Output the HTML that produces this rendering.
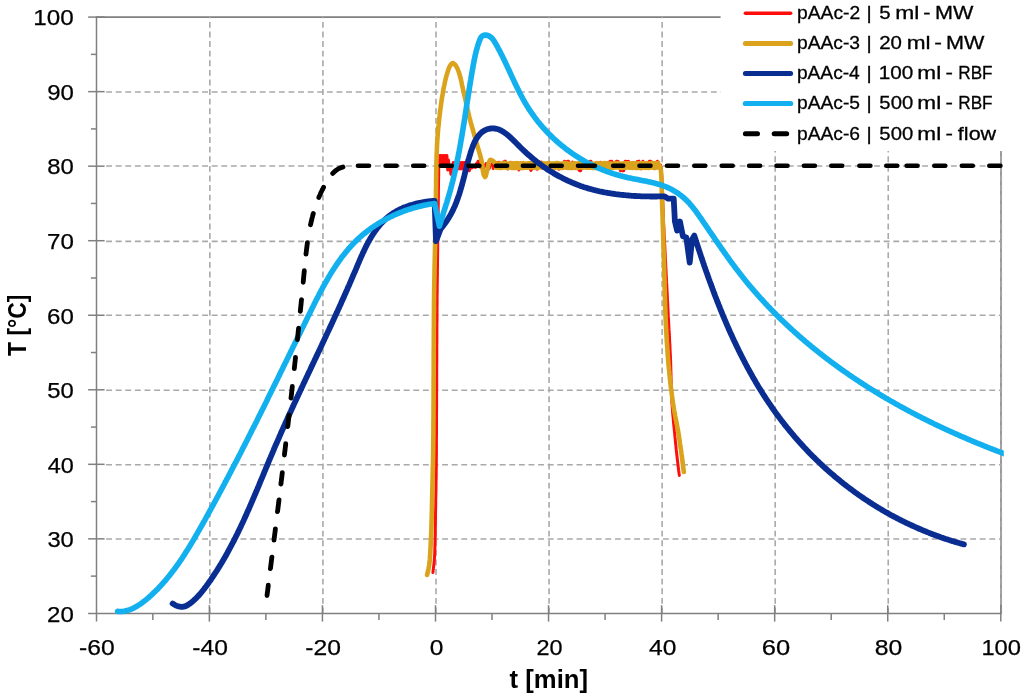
<!DOCTYPE html>
<html lang="en"><head><meta charset="utf-8"><title>T vs t</title>
<style>html,body{margin:0;padding:0;background:#fff;overflow:hidden}svg{display:block}</style>
</head><body>
<svg width="1024" height="700" viewBox="0 0 1024 700">
<rect x="0" y="0" width="1024" height="700" fill="#fff"/>
<g fill="none" stroke="#808080" stroke-width="1.6">
<path d="M96.5 17.1 H1001.0 V613.4"/>
</g>
<g fill="none" stroke="#a9a9a9" stroke-width="1.6" stroke-dasharray="5.9 3.7">
<path d="M209.86 613.4 V17.1"/>
<path d="M322.93 613.4 V17.1"/>
<path d="M435.99 613.4 V17.1"/>
<path d="M549.05 613.4 V17.1"/>
<path d="M662.11 613.4 V17.1"/>
<path d="M775.17 613.4 V17.1"/>
<path d="M888.24 613.4 V17.1"/>
<path d="M1001.30 613.4 V17.1"/>
<path d="M106.1 538.96 H1001.0"/>
<path d="M106.1 464.82 H1001.0"/>
<path d="M106.1 390.29 H1001.0"/>
<path d="M106.1 315.30 H1001.0"/>
<path d="M106.1 241.41 H1001.0"/>
<path d="M106.1 165.98 H1001.0"/>
<path d="M106.1 91.99 H1001.0"/>
</g>
<g fill="none" stroke="#808080" stroke-width="1.5">
<path d="M96.5 16.3 V621.6"/>
<path d="M88.1 613.4 H1001.8"/>
<path d="M152.83 613.4 v6.6"/>
<path d="M209.36 605.2 v16.4"/>
<path d="M265.89 613.4 v6.6"/>
<path d="M322.43 605.2 v16.4"/>
<path d="M378.96 613.4 v6.6"/>
<path d="M435.49 605.2 v16.4"/>
<path d="M492.02 613.4 v6.6"/>
<path d="M548.55 605.2 v16.4"/>
<path d="M605.08 613.4 v6.6"/>
<path d="M661.61 605.2 v16.4"/>
<path d="M718.14 613.4 v6.6"/>
<path d="M774.67 605.2 v16.4"/>
<path d="M831.21 613.4 v6.6"/>
<path d="M887.74 605.2 v16.4"/>
<path d="M944.27 613.4 v6.6"/>
<path d="M1000.80 605.2 v16.4"/>
<path d="M96.5 576.13 h-5.6"/>
<path d="M104.6 538.86 h-16.5"/>
<path d="M96.5 501.59 h-5.6"/>
<path d="M104.6 464.32 h-16.5"/>
<path d="M96.5 427.06 h-5.6"/>
<path d="M104.6 389.79 h-16.5"/>
<path d="M96.5 352.52 h-5.6"/>
<path d="M104.6 315.25 h-16.5"/>
<path d="M96.5 277.98 h-5.6"/>
<path d="M104.6 240.71 h-16.5"/>
<path d="M96.5 203.44 h-5.6"/>
<path d="M104.6 166.18 h-16.5"/>
<path d="M96.5 128.91 h-5.6"/>
<path d="M104.6 91.64 h-16.5"/>
<path d="M96.5 54.37 h-5.6"/>
<path d="M104.6 17.10 h-16.5"/>
</g>
<g fill="none" stroke-linecap="round" stroke-linejoin="round">
<path stroke="#ff0d0d" stroke-width="3" d="M432.9 572.6 L433.4 568.4 L433.9 564.2 L434.3 560.1 L434.6 555.9 L434.8 551.7 L434.9 547.5 L435.0 543.3 L435.1 539.1 L435.2 534.9 L435.3 530.7 L435.3 526.5 L435.4 522.3 L435.5 518.1 L435.5 513.9 L435.6 509.7 L435.7 505.5 L435.7 501.3 L435.8 497.1 L435.9 492.9 L436.0 488.7 L436.0 484.5 L436.1 480.3 L436.2 476.1 L436.2 471.9 L436.3 467.7 L436.3 463.5 L436.3 459.3 L436.4 455.1 L436.4 450.9 L436.4 446.7 L436.4 442.5 L436.4 438.3 L436.5 434.1 L436.5 429.9 L436.5 425.7 L436.5 421.5 L436.5 417.3 L436.5 413.1 L436.6 408.9 L436.6 404.7 L436.6 400.5 L436.6 396.3 L436.6 392.1 L436.7 387.9 L436.7 383.7 L436.7 379.5 L436.7 375.3 L436.7 371.1 L436.7 366.9 L436.8 362.7 L436.8 358.5 L436.8 354.3 L436.8 350.1 L436.8 345.9 L436.9 341.8 L436.9 337.6 L436.9 333.4 L436.9 329.2 L436.9 325.0 L437.0 320.8 L437.0 316.6 L437.0 312.4 L437.0 308.2 L437.1 304.0 L437.1 299.8 L437.1 295.6 L437.2 291.4 L437.2 287.2 L437.3 283.0 L437.3 278.8 L437.4 274.6 L437.4 270.4 L437.5 266.2 L437.5 262.0 L437.6 257.8 L437.6 253.6 L437.7 249.4 L437.7 245.2 L437.8 241.0 L437.8 236.8 L437.9 232.6 L437.9 228.4 L438.0 224.2 L438.0 220.0 L438.1 215.8 L438.2 211.6 L438.2 207.4 L438.3 203.2 L438.3 199.0 L438.4 194.8 L438.4 190.6 L438.5 186.4 L438.5 182.2 L438.6 178.0 L438.7 173.8 L438.7 169.6 L438.8 165.4 L438.8 161.2 L438.9 157.0 L438.9 155.6 L439.7 164.0 L440.5 155.6 L441.3 164.0 L442.1 155.6 L442.9 164.0 L443.7 155.6 L444.5 164.0 L445.3 155.6 L446.1 164.0 L446.9 155.6 L447.7 170.0 L448.5 160.0 L449.3 170.0 L450.1 166.0 L450.9 174.3 L451.7 166.0 L452.5 168.8 L453.3 162.6 L454.1 168.8 L454.9 162.6 L455.7 168.8 L456.5 162.6 L457.3 168.8 L458.1 162.6 L458.9 168.8 L459.7 162.6 L460.5 168.8 L461.3 162.6 L462.1 168.8 L462.9 162.6 L463.7 168.8 L464.5 162.6 L465.3 168.8 L466.1 170.8 L466.9 167.8 L467.7 167.2 L468.5 166.3 L469.3 170.8 L470.1 167.8 L470.9 166.4 L471.7 168.0 L472.5 167.0 L473.3 167.1 L474.1 165.8 L474.9 167.2 L475.7 167.4 L476.5 163.5 L477.3 163.3 L478.1 161.2 L478.9 163.1 L479.7 164.3 L480.5 167.5 L481.3 165.5 L482.1 165.4 L482.9 165.4 L483.7 168.1 L484.5 165.9 L485.3 165.4 L486.1 163.6 L486.9 166.6 L487.7 166.0 L488.5 169.0 L489.3 168.5 L490.1 164.7 L490.9 161.2 L491.7 161.2 L492.5 164.0 L493.3 168.5 L494.1 167.6 L494.9 166.8 L495.7 166.7 L496.5 164.8 L497.3 162.5 L498.1 164.2 L498.9 162.2 L499.7 167.0 L500.5 165.0 L501.3 168.6 L502.1 164.5 L502.9 164.7 L503.7 161.9 L504.5 162.5 L505.3 161.2 L506.1 164.0 L506.9 166.9 L507.7 169.0 L508.5 166.8 L509.3 165.9 L510.1 162.5 L510.9 162.7 L511.7 164.1 L512.5 165.6 L513.3 167.0 L514.1 164.9 L514.9 164.4 L515.7 163.6 L516.5 164.3 L517.3 166.4 L518.1 166.6 L518.9 170.0 L519.7 168.6 L520.5 167.9 L521.3 163.0 L522.1 163.4 L522.9 165.0 L523.7 165.5 L524.5 165.4 L525.3 165.5 L526.1 166.6 L526.9 165.7 L527.7 166.2 L528.5 166.6 L529.3 168.2 L530.1 168.5 L530.9 170.4 L531.7 169.1 L532.5 166.1 L533.3 164.6 L534.1 164.9 L534.9 162.5 L535.7 164.3 L536.5 164.5 L537.3 169.2 L538.1 164.9 L538.9 167.1 L539.7 164.8 L540.5 166.6 L541.3 161.9 L542.1 162.6 L542.9 162.4 L543.7 164.6 L544.5 165.6 L545.3 166.2 L546.1 168.2 L546.9 166.6 L547.7 164.7 L548.5 163.0 L549.3 164.9 L550.1 168.9 L550.9 170.4 L551.7 166.1 L552.5 164.6 L553.3 165.7 L554.1 169.0 L554.9 167.4 L555.7 165.3 L556.5 164.3 L557.3 166.4 L558.1 165.8 L558.9 169.2 L559.7 168.9 L560.5 167.7 L561.3 166.3 L562.1 167.0 L562.9 167.3 L563.7 165.5 L564.5 161.2 L565.3 162.4 L566.1 162.1 L566.9 162.4 L567.7 161.2 L568.5 161.2 L569.3 163.4 L570.1 166.4 L570.9 167.6 L571.7 164.3 L572.5 162.1 L573.3 162.8 L574.1 165.7 L574.9 168.0 L575.7 168.7 L576.5 166.1 L577.3 165.4 L578.1 165.0 L578.9 169.9 L579.7 170.7 L580.5 170.8 L581.3 167.5 L582.1 168.1 L582.9 164.8 L583.7 163.1 L584.5 162.9 L585.3 164.9 L586.1 167.4 L586.9 166.9 L587.7 167.7 L588.5 165.7 L589.3 163.2 L590.1 161.2 L590.9 161.2 L591.7 164.7 L592.5 166.4 L593.3 167.0 L594.1 163.5 L594.9 168.0 L595.7 168.5 L596.5 168.2 L597.3 163.7 L598.1 165.9 L598.9 167.7 L599.7 165.5 L600.5 162.3 L601.3 163.0 L602.1 164.5 L602.9 163.7 L603.7 164.7 L604.5 166.1 L605.3 168.6 L606.1 166.1 L606.9 165.1 L607.7 164.3 L608.5 162.4 L609.3 162.6 L610.1 161.2 L610.9 164.3 L611.7 161.2 L612.5 163.6 L613.3 162.6 L614.1 168.3 L614.9 166.6 L615.7 164.4 L616.5 161.2 L617.3 161.2 L618.1 161.4 L618.9 163.3 L619.7 166.7 L620.5 170.7 L621.3 168.6 L622.1 170.8 L622.9 170.8 L623.7 170.8 L624.5 164.7 L625.3 161.2 L626.1 161.5 L626.9 161.5 L627.7 161.8 L628.5 161.3 L629.3 164.0 L630.1 165.0 L630.9 167.1 L631.7 167.6 L632.5 166.9 L633.3 164.0 L634.1 163.5 L634.9 163.2 L635.7 165.3 L636.5 165.7 L637.3 161.6 L638.1 161.7 L638.9 161.2 L639.7 164.0 L640.5 166.1 L641.3 168.9 L642.1 166.6 L642.9 161.2 L643.7 163.0 L644.5 165.1 L645.3 168.6 L646.1 168.2 L646.9 168.1 L647.7 166.6 L648.5 163.3 L649.3 161.2 L650.1 161.2 L650.9 161.2 L651.7 162.5 L652.5 165.9 L653.3 165.8 L654.1 166.4 L654.9 167.1 L655.7 165.7 L656.5 164.9 L657.3 161.2 L658.1 164.0 L658.9 164.5 L659.7 168.3 L660.5 165.0 L660.9 167.6 L661.3 170.2 L661.5 172.8 L661.7 175.4 L661.9 178.0 L662.0 180.6 L662.2 183.2 L662.3 185.8 L662.4 188.4 L662.5 191.0 L662.6 193.6 L662.7 196.2 L662.8 198.9 L662.8 201.5 L662.9 204.1 L663.0 206.7 L663.1 209.3 L663.2 211.9 L663.3 214.6 L663.4 217.2 L663.5 219.8 L663.6 222.4 L663.7 225.0 L663.9 227.6 L664.0 230.2 L664.1 232.8 L664.2 235.5 L664.4 238.1 L664.5 240.7 L664.6 243.3 L664.8 245.9 L664.9 248.5 L665.0 251.1 L665.2 253.7 L665.3 256.3 L665.4 259.0 L665.6 261.6 L665.7 264.2 L665.8 266.8 L666.0 269.4 L666.1 272.0 L666.2 274.6 L666.4 277.2 L666.5 279.8 L666.6 282.4 L666.8 285.1 L666.9 287.7 L667.0 290.3 L667.2 292.9 L667.3 295.5 L667.4 298.1 L667.5 300.7 L667.7 303.3 L667.8 305.9 L667.9 308.6 L668.1 311.2 L668.2 313.8 L668.3 316.4 L668.5 319.0 L668.6 321.6 L668.7 324.2 L668.9 326.8 L669.0 329.4 L669.2 332.1 L669.3 334.7 L669.5 337.3 L669.6 339.9 L669.7 342.5 L669.9 345.1 L670.0 347.7 L670.1 350.3 L670.2 352.9 L670.4 355.6 L670.5 358.2 L670.6 360.8 L670.7 363.4 L670.8 366.0 L670.8 368.6 L670.9 371.2 L671.0 373.8 L671.0 376.5 L671.1 379.1 L671.2 381.7 L671.2 384.3 L671.3 386.9 L671.4 389.5 L671.5 392.1 L671.6 394.7 L671.7 397.4 L671.8 400.0 L671.9 402.6 L672.1 405.2 L672.3 407.8 L672.5 410.4 L672.7 413.0 L672.9 415.6 L673.2 418.2 L673.4 420.8 L673.6 423.4 L673.9 426.0 L674.2 428.6 L674.4 431.2 L674.7 433.8 L674.9 436.4 L675.2 439.0 L675.4 441.6 L675.7 444.2 L676.0 446.8 L676.2 449.4 L676.5 452.0 L676.8 454.6 L677.1 457.2 L677.4 459.8 L677.7 462.4 L678.0 465.0 L678.3 467.6 L678.6 470.2 L679.0 472.8 L679.3 475.4"/>
<path stroke="#dba31c" stroke-width="4.6" d="M427.1 574.9 L427.6 572.7 L428.1 570.6 L428.6 568.4 L429.0 566.2 L429.3 564.1 L429.6 561.9 L429.8 559.7 L429.9 557.5 L430.1 555.3 L430.3 553.1 L430.4 550.9 L430.5 548.7 L430.6 546.5 L430.7 544.2 L430.8 542.0 L430.9 539.8 L431.0 537.6 L431.1 535.4 L431.2 533.2 L431.3 531.0 L431.4 528.8 L431.4 526.6 L431.5 524.4 L431.6 522.2 L431.6 520.0 L431.7 517.7 L431.8 515.5 L431.8 513.3 L431.9 511.1 L431.9 508.9 L432.0 506.7 L432.0 504.5 L432.1 502.3 L432.1 500.1 L432.2 497.9 L432.2 495.7 L432.3 493.4 L432.3 491.2 L432.4 489.0 L432.4 486.8 L432.5 484.6 L432.5 482.4 L432.6 480.2 L432.6 478.0 L432.7 475.8 L432.7 473.6 L432.8 471.4 L432.8 469.1 L432.9 466.9 L432.9 464.7 L433.0 462.5 L433.0 460.3 L433.1 458.1 L433.1 455.9 L433.1 453.7 L433.2 451.5 L433.2 449.3 L433.2 447.1 L433.2 444.8 L433.3 442.6 L433.3 440.4 L433.3 438.2 L433.3 436.0 L433.4 433.8 L433.4 431.6 L433.4 429.4 L433.4 427.2 L433.4 425.0 L433.4 422.7 L433.4 420.5 L433.5 418.3 L433.5 416.1 L433.5 413.9 L433.5 411.7 L433.5 409.5 L433.5 407.3 L433.5 405.1 L433.5 402.9 L433.6 400.7 L433.6 398.4 L433.6 396.2 L433.6 394.0 L433.6 391.8 L433.6 389.6 L433.6 387.4 L433.6 385.2 L433.6 383.0 L433.6 380.8 L433.6 378.6 L433.7 376.3 L433.7 374.1 L433.7 371.9 L433.7 369.7 L433.7 367.5 L433.7 365.3 L433.7 363.1 L433.7 360.9 L433.7 358.7 L433.7 356.5 L433.7 354.2 L433.7 352.0 L433.7 349.8 L433.8 347.6 L433.8 345.4 L433.8 343.2 L433.8 341.0 L433.8 338.8 L433.8 336.6 L433.8 334.4 L433.8 332.2 L433.8 329.9 L433.9 327.7 L433.9 325.5 L433.9 323.3 L433.9 321.1 L433.9 318.9 L433.9 316.7 L433.9 314.5 L434.0 312.3 L434.0 310.1 L434.0 307.8 L434.0 305.6 L434.0 303.4 L434.0 301.2 L434.1 299.0 L434.1 296.8 L434.1 294.6 L434.1 292.4 L434.2 290.2 L434.2 288.0 L434.2 285.8 L434.3 283.5 L434.3 281.3 L434.4 279.1 L434.4 276.9 L434.5 274.7 L434.5 272.5 L434.5 270.3 L434.6 268.1 L434.6 265.9 L434.7 263.7 L434.7 261.5 L434.8 259.2 L434.8 257.0 L434.9 254.8 L434.9 252.6 L435.0 250.4 L435.0 248.2 L435.1 246.0 L435.1 243.8 L435.2 241.6 L435.2 239.4 L435.3 237.2 L435.3 234.9 L435.3 232.7 L435.4 230.5 L435.4 228.3 L435.5 226.1 L435.5 223.9 L435.5 221.7 L435.6 219.5 L435.6 217.3 L435.7 215.1 L435.7 212.9 L435.7 210.6 L435.8 208.4 L435.8 206.2 L435.8 204.0 L435.9 201.8 L435.9 199.6 L435.9 197.4 L436.0 195.2 L436.0 193.0 L436.0 190.8 L436.0 188.6 L436.1 186.3 L436.1 184.1 L436.1 181.9 L436.1 179.7 L436.2 177.5 L436.2 175.3 L436.2 173.1 L436.3 170.9 L436.3 168.7 L436.3 166.5 L436.4 164.2 L436.4 162.0 L436.5 159.8 L436.6 157.6 L436.6 155.4 L436.7 153.2 L436.8 151.0 L436.9 148.8 L437.0 146.6 L437.1 144.4 L437.2 142.2 L437.3 140.0 L437.5 137.8 L437.7 135.6 L437.8 133.4 L438.0 131.1 L438.2 128.9 L438.4 126.7 L438.7 124.5 L438.9 122.3 L439.1 120.2 L439.3 118.0 L439.6 115.8 L439.8 113.6 L440.1 111.4 L440.4 109.2 L440.7 107.0 L441.0 104.8 L441.3 102.6 L441.6 100.4 L441.9 98.2 L442.3 96.1 L442.7 93.9 L443.0 91.7 L443.4 89.5 L443.8 87.3 L444.3 85.2 L444.7 83.0 L445.2 80.8 L445.7 78.7 L446.3 76.5 L446.9 74.4 L447.5 72.3 L448.2 70.2 L448.9 68.0 L449.9 66.0 L451.1 64.2 L452.8 63.0 L454.7 64.3 L456.1 66.0 L457.2 68.0 L458.0 70.0 L458.8 72.0 L459.4 74.1 L460.0 76.2 L460.6 78.3 L461.1 80.5 L461.6 82.7 L462.0 84.9 L462.5 87.1 L463.0 89.2 L463.5 91.4 L464.0 93.6 L464.5 95.7 L465.0 97.9 L465.5 100.0 L466.0 102.2 L466.4 104.3 L466.9 106.5 L467.4 108.7 L467.9 110.8 L468.4 113.0 L468.9 115.1 L469.4 117.3 L470.0 119.4 L470.5 121.5 L471.1 123.7 L471.7 125.8 L472.3 127.9 L472.9 130.0 L473.5 132.2 L474.1 134.3 L474.7 136.4 L475.3 138.6 L475.9 140.7 L476.5 142.8 L477.1 144.9 L477.7 147.1 L478.4 149.2 L479.0 151.3 L479.6 153.4 L480.2 155.5 L480.8 157.7 L481.3 159.8 L481.8 162.0 L482.1 164.2 L482.4 166.4 L482.6 168.7 L482.9 170.9 L483.3 173.0 L483.8 175.1 L485.0 177.0 L485.8 176.0 L486.4 173.5 L487.0 170.8 L487.6 168.5 L488.2 165.7 L488.8 163.0 L489.5 160.9 L490.4 159.8 L492.2 160.4 L493.9 161.8 L495.4 163.4 L496.5 165.5"/>
<path stroke="#dba31c" stroke-width="8.6" stroke-linecap="butt" d="M496.0 165.1 L497.1 165.8 L498.2 165.5 L499.3 165.8 L500.4 166.0 L501.5 165.6 L502.6 165.6 L503.7 165.1 L504.8 165.3 L505.9 165.5 L507.0 165.7 L508.1 165.9 L509.2 165.4 L510.3 165.1 L511.4 165.3 L512.5 166.0 L513.6 165.3 L514.7 165.5 L515.8 166.0 L516.9 165.1 L518.0 165.7 L519.1 166.0 L520.2 165.3 L521.3 165.6 L522.4 166.0 L523.5 165.2 L524.6 165.6 L525.7 165.8 L526.8 165.7 L527.9 165.5 L529.0 165.3 L530.1 165.5 L531.2 165.4 L532.3 165.5 L533.4 165.4 L534.5 165.9 L535.6 165.8 L536.7 165.4 L537.8 165.6 L538.9 165.3 L540.0 165.5 L541.1 165.4 L542.2 165.7 L543.3 165.4 L544.4 165.5 L545.5 165.8 L546.6 165.5 L547.7 166.0 L548.8 165.2 L549.9 165.8 L551.0 165.5 L552.1 165.5 L553.2 165.7 L554.3 165.6 L555.4 165.5 L556.5 165.1 L557.6 165.1 L558.7 165.8 L559.8 165.6 L560.9 165.7 L562.0 166.0 L563.1 165.7 L564.2 165.1 L565.3 165.4 L566.4 165.6 L567.5 165.3 L568.6 166.0 L569.7 166.0 L570.8 165.9 L571.9 165.5 L573.0 165.9 L574.1 165.2 L575.2 165.4 L576.3 165.5 L577.4 165.8 L578.5 165.5 L579.6 165.2 L580.7 165.4 L581.8 165.4 L582.9 165.4 L584.0 165.2 L585.1 165.5 L586.2 165.5 L587.3 165.8 L588.4 165.8 L589.5 165.6 L590.6 165.5 L591.7 165.8 L592.8 165.9 L593.9 165.7 L595.0 165.9 L596.1 166.0 L597.2 165.1 L598.3 165.9 L599.4 165.3 L600.5 165.5 L601.6 165.8 L602.7 165.8 L603.8 165.2 L604.9 165.7 L606.0 165.1 L607.1 165.4 L608.2 165.9 L609.3 165.5 L610.4 165.6 L611.5 165.8 L612.6 165.9 L613.7 165.8 L614.8 165.1 L615.9 165.5 L617.0 165.5 L618.1 165.1 L619.2 165.6 L620.3 165.7 L621.4 165.9 L622.5 166.0 L623.6 165.2 L624.7 165.3 L625.8 165.7 L626.9 165.2 L628.0 165.3 L629.1 165.6 L630.2 165.2 L631.3 165.8 L632.4 165.9 L633.5 165.1 L634.6 165.6 L635.7 165.8 L636.8 166.0 L637.9 165.3 L639.0 165.2 L640.1 165.9 L641.2 166.0 L642.3 165.2 L643.4 165.5 L644.5 165.8 L645.6 165.9 L646.7 165.2 L647.8 165.7 L648.9 165.9 L650.0 165.6 L651.1 165.2 L652.2 165.1 L653.3 165.3 L654.4 165.9 L655.5 165.1 L656.6 165.1 L657.7 165.4 L658.8 165.1 L659.9 165.2"/>
<path stroke="#dba31c" stroke-width="4.6" d="M659.2 165.6 L660.5 167.9 L660.9 170.3 L661.1 172.8 L661.3 175.3 L661.4 177.9 L661.5 180.5 L661.6 183.1 L661.7 185.7 L661.7 188.3 L661.8 191.0 L661.8 193.6 L661.9 196.3 L662.0 198.9 L662.1 201.4 L662.1 204.0 L662.2 206.6 L662.3 209.2 L662.4 211.8 L662.5 214.4 L662.6 217.0 L662.7 219.6 L662.7 222.1 L662.8 224.7 L662.9 227.3 L663.0 229.9 L663.1 232.5 L663.1 235.1 L663.2 237.7 L663.3 240.3 L663.4 242.8 L663.5 245.4 L663.5 248.0 L663.6 250.6 L663.7 253.2 L663.8 255.8 L663.9 258.4 L663.9 261.0 L664.0 263.5 L664.1 266.1 L664.2 268.7 L664.2 271.3 L664.3 273.9 L664.4 276.5 L664.5 279.1 L664.5 281.7 L664.6 284.2 L664.6 286.8 L664.7 289.4 L664.8 292.0 L664.8 294.6 L664.9 297.2 L665.0 299.8 L665.1 302.4 L665.1 305.0 L665.2 307.5 L665.3 310.1 L665.4 312.7 L665.5 315.3 L665.6 317.9 L665.7 320.5 L665.8 323.1 L665.9 325.6 L666.1 328.2 L666.2 330.8 L666.4 333.4 L666.5 336.0 L666.7 338.6 L666.8 341.2 L667.0 343.7 L667.2 346.3 L667.4 348.9 L667.5 351.5 L667.7 354.1 L667.9 356.6 L668.1 359.2 L668.3 361.8 L668.5 364.4 L668.8 367.0 L669.0 369.5 L669.3 372.1 L669.5 374.7 L669.8 377.3 L670.1 379.9 L670.3 382.4 L670.6 385.0 L670.9 387.6 L671.3 390.1 L671.6 392.7 L671.9 395.3 L672.3 397.8 L672.6 400.4 L673.0 403.0 L673.3 405.5 L673.8 408.1 L674.2 410.6 L674.7 413.2 L675.1 415.7 L675.6 418.3 L676.1 420.8 L676.6 423.3 L677.1 425.9 L677.6 428.4 L678.1 431.0 L678.5 433.5 L678.9 436.1 L679.3 438.7 L679.7 441.2 L680.0 443.8 L680.4 446.3 L680.8 448.9 L681.2 451.5 L681.5 454.0 L681.9 456.6 L682.2 459.1 L682.5 461.7 L682.9 464.3 L683.2 466.9 L683.5 469.4 L683.8 472.0"/>
<path stroke="#0a2d91" stroke-width="5.8" d="M172.6 603.6 L173.8 604.3 L175.0 605.0 L176.2 605.6 L177.4 606.1 L178.7 606.5 L179.9 606.7 L181.2 606.9 L182.4 606.9 L183.6 606.7 L184.7 606.4 L185.8 606.0 L186.9 605.5 L188.0 604.9 L189.0 604.2 L190.0 603.5 L191.0 602.7 L192.0 601.9 L193.0 601.1 L193.9 600.3 L194.8 599.4 L195.7 598.6 L196.6 597.7 L197.5 596.8 L198.4 595.9 L199.2 594.9 L200.1 594.0 L200.9 593.0 L201.7 592.0 L202.5 591.0 L203.3 590.0 L204.1 589.0 L204.8 588.0 L205.6 587.0 L206.4 586.0 L207.1 585.0 L207.9 583.9 L208.6 582.9 L209.3 581.8 L210.1 580.8 L210.8 579.8 L211.5 578.7 L212.2 577.7 L212.9 576.6 L213.6 575.5 L214.3 574.5 L215.0 573.4 L215.7 572.4 L216.4 571.3 L217.1 570.2 L217.8 569.1 L218.4 568.1 L219.1 567.0 L219.8 565.9 L220.4 564.8 L221.1 563.7 L221.7 562.7 L222.4 561.6 L223.0 560.5 L223.7 559.4 L224.3 558.3 L224.9 557.2 L225.6 556.1 L226.2 555.0 L226.8 553.9 L227.4 552.8 L228.0 551.7 L228.6 550.5 L229.2 549.4 L229.8 548.3 L230.4 547.2 L231.0 546.1 L231.6 545.0 L232.2 543.8 L232.8 542.7 L233.4 541.6 L234.0 540.5 L234.5 539.3 L235.1 538.2 L235.7 537.1 L236.2 535.9 L236.8 534.8 L237.4 533.7 L237.9 532.5 L238.5 531.4 L239.0 530.2 L239.6 529.1 L240.1 527.9 L240.7 526.8 L241.2 525.6 L241.7 524.5 L242.3 523.3 L242.8 522.2 L243.4 521.0 L243.9 519.9 L244.4 518.7 L244.9 517.6 L245.5 516.4 L246.0 515.3 L246.5 514.1 L247.0 512.9 L247.5 511.8 L248.1 510.6 L248.6 509.5 L249.1 508.3 L249.6 507.1 L250.1 506.0 L250.6 504.8 L251.1 503.6 L251.6 502.5 L252.1 501.3 L252.6 500.1 L253.1 499.0 L253.6 497.8 L254.1 496.6 L254.6 495.4 L255.1 494.3 L255.6 493.1 L256.1 491.9 L256.6 490.7 L257.1 489.6 L257.6 488.4 L258.1 487.2 L258.6 486.1 L259.1 484.9 L259.6 483.7 L260.0 482.5 L260.5 481.4 L261.0 480.2 L261.5 479.0 L262.0 477.8 L262.5 476.7 L263.0 475.5 L263.5 474.3 L263.9 473.1 L264.4 472.0 L264.9 470.8 L265.4 469.6 L265.9 468.4 L266.4 467.3 L266.9 466.1 L267.4 464.9 L267.8 463.7 L268.3 462.6 L268.8 461.4 L269.3 460.2 L269.8 459.0 L270.3 457.9 L270.8 456.7 L271.3 455.5 L271.8 454.4 L272.3 453.2 L272.8 452.0 L273.3 450.9 L273.8 449.7 L274.2 448.5 L274.7 447.4 L275.2 446.2 L275.7 445.0 L276.3 443.9 L276.8 442.7 L277.3 441.5 L277.8 440.4 L278.3 439.2 L278.8 438.1 L279.3 436.9 L279.8 435.7 L280.3 434.6 L280.8 433.4 L281.3 432.3 L281.8 431.1 L282.3 430.0 L282.9 428.8 L283.4 427.6 L283.9 426.5 L284.4 425.3 L284.9 424.2 L285.4 423.0 L286.0 421.9 L286.5 420.7 L287.0 419.6 L287.5 418.4 L288.0 417.3 L288.6 416.1 L289.1 415.0 L289.6 413.8 L290.1 412.7 L290.7 411.5 L291.2 410.4 L291.7 409.2 L292.2 408.1 L292.8 406.9 L293.3 405.8 L293.8 404.6 L294.3 403.5 L294.9 402.3 L295.4 401.2 L295.9 400.1 L296.5 398.9 L297.0 397.8 L297.5 396.6 L298.1 395.5 L298.6 394.3 L299.1 393.2 L299.7 392.0 L300.2 390.9 L300.7 389.8 L301.3 388.6 L301.8 387.5 L302.3 386.3 L302.9 385.2 L303.4 384.0 L303.9 382.9 L304.5 381.8 L305.0 380.6 L305.5 379.5 L306.1 378.3 L306.6 377.2 L307.2 376.0 L307.7 374.9 L308.2 373.8 L308.8 372.6 L309.3 371.5 L309.9 370.3 L310.4 369.2 L310.9 368.0 L311.5 366.9 L312.0 365.8 L312.5 364.6 L313.1 363.5 L313.6 362.3 L314.2 361.2 L314.7 360.0 L315.2 358.9 L315.8 357.8 L316.3 356.6 L316.9 355.5 L317.4 354.3 L317.9 353.2 L318.5 352.0 L319.0 350.9 L319.6 349.7 L320.1 348.6 L320.6 347.5 L321.2 346.3 L321.7 345.2 L322.2 344.0 L322.8 342.9 L323.3 341.7 L323.9 340.6 L324.4 339.4 L324.9 338.3 L325.5 337.1 L326.0 336.0 L326.5 334.8 L327.1 333.7 L327.6 332.5 L328.1 331.4 L328.7 330.2 L329.2 329.1 L329.8 327.9 L330.3 326.8 L330.8 325.6 L331.4 324.5 L331.9 323.3 L332.4 322.2 L333.0 321.0 L333.5 319.8 L334.0 318.7 L334.5 317.5 L335.1 316.4 L335.6 315.2 L336.1 314.1 L336.7 312.9 L337.2 311.7 L337.7 310.6 L338.2 309.4 L338.8 308.3 L339.3 307.1 L339.8 305.9 L340.4 304.8 L340.9 303.6 L341.4 302.4 L341.9 301.3 L342.4 300.1 L343.0 298.9 L343.5 297.8 L344.0 296.6 L344.5 295.4 L345.0 294.3 L345.6 293.1 L346.1 291.9 L346.6 290.7 L347.1 289.6 L347.6 288.4 L348.1 287.2 L348.7 286.0 L349.2 284.9 L349.7 283.7 L350.2 282.5 L350.7 281.3 L351.2 280.1 L351.7 279.0 L352.2 277.8 L352.7 276.6 L353.2 275.4 L353.7 274.2 L354.3 273.0 L354.8 271.8 L355.3 270.7 L355.8 269.5 L356.3 268.3 L356.8 267.1 L357.3 265.9 L357.8 264.7 L358.3 263.5 L358.8 262.3 L359.3 261.2 L359.8 260.0 L360.3 258.8 L360.8 257.6 L361.3 256.4 L361.9 255.3 L362.4 254.1 L362.9 252.9 L363.5 251.8 L364.0 250.6 L364.6 249.5 L365.1 248.3 L365.7 247.2 L366.2 246.1 L366.8 245.0 L367.4 243.8 L368.0 242.7 L368.6 241.6 L369.2 240.5 L369.8 239.5 L370.4 238.4 L371.1 237.3 L371.7 236.3 L372.4 235.2 L373.0 234.2 L373.7 233.2 L374.4 232.1 L375.1 231.1 L375.8 230.1 L376.5 229.2 L377.2 228.2 L378.0 227.2 L378.8 226.3 L379.5 225.4 L380.3 224.4 L381.1 223.5 L382.0 222.6 L382.8 221.8 L383.6 220.9 L384.5 220.1 L385.4 219.2 L386.3 218.4 L387.2 217.6 L388.2 216.8 L389.1 216.1 L390.1 215.3 L391.1 214.6 L392.1 213.9 L393.1 213.2 L394.2 212.5 L395.2 211.9 L396.3 211.2 L397.4 210.6 L398.6 210.0 L399.7 209.4 L400.9 208.9 L402.1 208.4 L403.3 207.8 L404.5 207.3 L405.7 206.9 L407.0 206.4 L408.2 206.0 L409.5 205.5 L410.8 205.1 L412.1 204.8 L413.3 204.4 L414.6 204.0 L415.9 203.7 L417.2 203.4 L418.5 203.1 L419.8 202.8 L421.1 202.6 L422.4 202.3 L423.6 202.1 L424.9 201.9 L426.2 201.7 L427.4 201.5 L428.6 201.4 L429.9 201.2 L431.1 201.1 L432.3 201.0 L433.4 200.9 L434.6 200.8 L434.6 200.8 L436.0 241.1 L440.7 228.8 L440.7 228.8 L441.4 228.0 L442.1 227.1 L442.8 226.3 L443.5 225.4 L444.1 224.6 L444.8 223.7 L445.4 222.8 L446.0 222.0 L446.6 221.1 L447.2 220.2 L447.7 219.4 L448.3 218.5 L448.8 217.6 L449.4 216.7 L449.9 215.8 L450.4 215.0 L450.9 214.1 L451.4 213.2 L451.8 212.3 L452.3 211.4 L452.8 210.5 L453.2 209.5 L453.6 208.6 L454.0 207.7 L454.5 206.8 L454.9 205.9 L455.3 205.0 L455.6 204.0 L456.0 203.1 L456.4 202.2 L456.7 201.2 L457.1 200.3 L457.4 199.3 L457.8 198.4 L458.1 197.4 L458.4 196.5 L458.8 195.5 L459.1 194.6 L459.4 193.6 L459.7 192.6 L460.0 191.7 L460.3 190.7 L460.6 189.7 L460.9 188.7 L461.1 187.8 L461.4 186.8 L461.7 185.8 L462.0 184.8 L462.2 183.8 L462.5 182.8 L462.8 181.8 L463.0 180.8 L463.3 179.8 L463.6 178.8 L463.8 177.8 L464.1 176.8 L464.4 175.8 L464.6 174.7 L464.9 173.7 L465.1 172.7 L465.4 171.7 L465.7 170.6 L465.9 169.6 L466.2 168.6 L466.5 167.5 L466.7 166.5 L467.0 165.4 L467.3 164.4 L467.6 163.3 L467.8 162.3 L468.1 161.2 L468.4 160.2 L468.7 159.1 L469.0 158.1 L469.3 157.0 L469.6 155.9 L470.0 154.8 L470.3 153.8 L470.6 152.7 L470.9 151.6 L471.3 150.6 L471.6 149.5 L472.0 148.5 L472.4 147.4 L472.8 146.4 L473.2 145.4 L473.6 144.3 L474.0 143.4 L474.5 142.4 L475.0 141.4 L475.4 140.5 L475.9 139.6 L476.5 138.7 L477.0 137.8 L477.6 137.0 L478.1 136.2 L478.7 135.4 L479.4 134.7 L480.0 134.0 L480.7 133.3 L481.4 132.6 L482.1 132.0 L482.9 131.5 L483.7 131.0 L484.5 130.5 L485.4 130.0 L486.2 129.7 L487.1 129.3 L488.0 129.0 L489.0 128.8 L489.9 128.6 L490.8 128.5 L491.8 128.4 L492.7 128.4 L493.6 128.4 L494.5 128.5 L495.4 128.6 L496.3 128.8 L497.2 129.0 L498.0 129.2 L498.9 129.6 L499.8 129.9 L500.6 130.3 L501.4 130.7 L502.3 131.2 L503.1 131.7 L503.9 132.2 L504.7 132.8 L505.6 133.4 L506.4 134.0 L507.2 134.6 L508.0 135.3 L508.8 136.0 L509.6 136.7 L510.4 137.4 L511.1 138.1 L511.9 138.9 L512.7 139.6 L513.5 140.4 L514.3 141.2 L515.1 141.9 L515.8 142.7 L516.6 143.5 L517.4 144.3 L518.2 145.1 L519.0 145.9 L519.8 146.7 L520.6 147.5 L521.3 148.2 L522.1 149.0 L522.9 149.8 L523.7 150.5 L524.5 151.3 L525.3 152.0 L526.1 152.7 L526.9 153.5 L527.7 154.2 L528.5 154.9 L529.4 155.6 L530.2 156.3 L531.0 157.0 L531.8 157.7 L532.6 158.4 L533.4 159.0 L534.3 159.7 L535.1 160.4 L535.9 161.0 L536.7 161.7 L537.6 162.3 L538.4 163.0 L539.2 163.6 L540.1 164.2 L540.9 164.8 L541.8 165.4 L542.6 166.1 L543.5 166.7 L544.3 167.2 L545.2 167.8 L546.0 168.4 L546.9 169.0 L547.7 169.6 L548.6 170.1 L549.5 170.7 L550.3 171.2 L551.2 171.8 L552.1 172.3 L553.0 172.8 L553.8 173.4 L554.7 173.9 L555.6 174.4 L556.5 174.9 L557.4 175.4 L558.3 175.9 L559.2 176.4 L560.1 176.8 L561.0 177.3 L561.9 177.8 L562.8 178.3 L563.7 178.7 L564.6 179.2 L565.5 179.6 L566.4 180.0 L567.3 180.5 L568.2 180.9 L569.2 181.3 L570.1 181.7 L571.0 182.1 L571.9 182.5 L572.9 182.9 L573.8 183.3 L574.8 183.7 L575.7 184.1 L576.6 184.4 L577.6 184.8 L578.5 185.2 L579.5 185.5 L580.5 185.9 L581.4 186.2 L582.4 186.5 L583.4 186.9 L584.3 187.2 L585.3 187.5 L586.3 187.8 L587.2 188.1 L588.2 188.4 L589.2 188.7 L590.2 189.0 L591.2 189.2 L592.2 189.5 L593.2 189.8 L594.2 190.0 L595.2 190.3 L596.2 190.5 L597.2 190.8 L598.2 191.0 L599.2 191.3 L600.3 191.5 L601.3 191.7 L602.3 191.9 L603.3 192.1 L604.4 192.3 L605.4 192.5 L606.4 192.7 L607.5 192.9 L608.5 193.1 L609.5 193.2 L610.6 193.4 L611.6 193.6 L612.7 193.7 L613.7 193.9 L614.8 194.0 L615.8 194.2 L616.9 194.3 L617.9 194.4 L619.0 194.6 L620.0 194.7 L621.1 194.8 L622.1 194.9 L623.2 195.0 L624.2 195.1 L625.3 195.2 L626.3 195.3 L627.4 195.4 L628.5 195.5 L629.5 195.6 L630.6 195.7 L631.6 195.8 L632.7 195.8 L633.7 195.9 L634.8 196.0 L635.8 196.0 L636.9 196.1 L637.9 196.1 L639.0 196.2 L640.0 196.2 L641.1 196.3 L642.1 196.3 L643.2 196.3 L644.2 196.4 L645.3 196.4 L646.3 196.4 L647.3 196.4 L648.4 196.4 L649.4 196.4 L650.4 196.5 L651.5 196.5 L652.5 196.5 L653.5 196.5 L654.5 196.5 L655.6 196.5 L656.6 196.5 L657.6 196.4 L658.6 196.4 L659.6 196.4 L660.6 196.4 L661.6 196.4 L662.6 196.4 L663.6 196.3 L664.6 196.3 L664.6 196.3 L668.0 198.6 L673.7 198.6 L674.9 221.4 L677.1 230.6 L679.9 221.4 L682.9 236.3 L686.3 237.4 L689.7 262.6 L692.0 239.7 L694.3 235.6 L694.3 235.6 L694.7 236.9 L695.2 238.3 L695.6 239.6 L696.0 241.0 L696.5 242.4 L696.9 243.7 L697.3 245.1 L697.8 246.4 L698.2 247.8 L698.7 249.1 L699.1 250.5 L699.6 251.8 L700.0 253.2 L700.5 254.5 L700.9 255.9 L701.4 257.3 L701.8 258.6 L702.3 260.0 L702.7 261.3 L703.2 262.7 L703.7 264.0 L704.1 265.4 L704.6 266.8 L705.1 268.1 L705.5 269.5 L706.0 270.8 L706.5 272.2 L707.0 273.5 L707.5 274.9 L707.9 276.3 L708.4 277.6 L708.9 279.0 L709.4 280.3 L709.9 281.7 L710.4 283.0 L710.9 284.4 L711.4 285.7 L711.9 287.1 L712.4 288.5 L712.9 289.8 L713.4 291.2 L713.9 292.5 L714.4 293.9 L714.9 295.2 L715.4 296.6 L716.0 297.9 L716.5 299.3 L717.0 300.6 L717.5 302.0 L718.1 303.3 L718.6 304.7 L719.1 306.0 L719.7 307.3 L720.2 308.7 L720.7 310.0 L721.3 311.4 L721.8 312.7 L722.4 314.1 L722.9 315.4 L723.5 316.7 L724.1 318.1 L724.6 319.4 L725.2 320.7 L725.8 322.1 L726.3 323.4 L726.9 324.7 L727.5 326.1 L728.1 327.4 L728.6 328.7 L729.2 330.0 L729.8 331.4 L730.4 332.7 L731.0 334.0 L731.6 335.3 L732.2 336.6 L732.8 337.9 L733.4 339.3 L734.0 340.6 L734.6 341.9 L735.3 343.2 L735.9 344.5 L736.5 345.8 L737.1 347.1 L737.8 348.4 L738.4 349.7 L739.0 351.0 L739.7 352.3 L740.3 353.6 L741.0 354.9 L741.6 356.2 L742.3 357.5 L742.9 358.7 L743.6 360.0 L744.3 361.3 L744.9 362.6 L745.6 363.9 L746.3 365.1 L746.9 366.4 L747.6 367.7 L748.3 368.9 L749.0 370.2 L749.7 371.5 L750.4 372.7 L751.1 374.0 L751.8 375.2 L752.5 376.5 L753.2 377.8 L754.0 379.0 L754.7 380.2 L755.4 381.5 L756.1 382.7 L756.9 384.0 L757.6 385.2 L758.3 386.4 L759.1 387.7 L759.8 388.9 L760.6 390.1 L761.4 391.3 L762.1 392.5 L762.9 393.8 L763.7 395.0 L764.4 396.2 L765.2 397.4 L766.0 398.6 L766.8 399.8 L767.6 401.0 L768.4 402.2 L769.2 403.4 L770.0 404.5 L770.8 405.7 L771.6 406.9 L772.4 408.1 L773.2 409.2 L774.1 410.4 L774.9 411.6 L775.7 412.7 L776.6 413.9 L777.4 415.1 L778.3 416.2 L779.1 417.4 L780.0 418.5 L780.8 419.6 L781.7 420.8 L782.6 421.9 L783.5 423.0 L784.3 424.2 L785.2 425.3 L786.1 426.4 L787.0 427.5 L787.9 428.6 L788.8 429.7 L789.7 430.8 L790.6 431.9 L791.5 433.0 L792.5 434.1 L793.4 435.2 L794.3 436.3 L795.2 437.4 L796.2 438.5 L797.1 439.5 L798.1 440.6 L799.0 441.7 L800.0 442.7 L800.9 443.8 L801.9 444.9 L802.9 445.9 L803.8 447.0 L804.8 448.0 L805.8 449.0 L806.8 450.1 L807.7 451.1 L808.7 452.1 L809.7 453.2 L810.7 454.2 L811.7 455.2 L812.7 456.2 L813.7 457.2 L814.8 458.2 L815.8 459.2 L816.8 460.2 L817.8 461.2 L818.9 462.2 L819.9 463.2 L820.9 464.1 L822.0 465.1 L823.0 466.1 L824.1 467.1 L825.1 468.0 L826.2 469.0 L827.2 469.9 L828.3 470.9 L829.4 471.8 L830.5 472.8 L831.5 473.7 L832.6 474.6 L833.7 475.5 L834.8 476.5 L835.9 477.4 L837.0 478.3 L838.1 479.2 L839.2 480.1 L840.3 481.0 L841.4 481.9 L842.5 482.8 L843.6 483.7 L844.8 484.6 L845.9 485.4 L847.0 486.3 L848.2 487.2 L849.3 488.0 L850.4 488.9 L851.6 489.7 L852.7 490.6 L853.9 491.4 L855.0 492.3 L856.2 493.1 L857.4 493.9 L858.5 494.8 L859.7 495.6 L860.9 496.4 L862.0 497.2 L863.2 498.0 L864.4 498.8 L865.6 499.6 L866.8 500.4 L868.0 501.2 L869.2 502.0 L870.4 502.8 L871.6 503.5 L872.8 504.3 L874.0 505.1 L875.2 505.8 L876.4 506.6 L877.7 507.3 L878.9 508.1 L880.1 508.8 L881.4 509.5 L882.6 510.3 L883.8 511.0 L885.1 511.7 L886.3 512.4 L887.6 513.1 L888.8 513.8 L890.1 514.5 L891.3 515.2 L892.6 515.9 L893.9 516.6 L895.1 517.2 L896.4 517.9 L897.7 518.6 L899.0 519.2 L900.2 519.9 L901.5 520.5 L902.8 521.2 L904.1 521.8 L905.4 522.5 L906.7 523.1 L908.0 523.7 L909.3 524.3 L910.6 524.9 L911.9 525.5 L913.2 526.1 L914.5 526.7 L915.9 527.3 L917.2 527.9 L918.5 528.5 L919.8 529.1 L921.2 529.6 L922.5 530.2 L923.8 530.7 L925.2 531.3 L926.5 531.8 L927.9 532.4 L929.2 532.9 L930.6 533.4 L931.9 534.0 L933.3 534.5 L934.7 535.0 L936.0 535.5 L937.4 536.0 L938.8 536.5 L940.1 537.0 L941.5 537.5 L942.9 537.9 L944.3 538.4 L945.7 538.9 L947.0 539.3 L948.4 539.8 L949.8 540.2 L951.2 540.7 L952.6 541.1 L954.0 541.6 L955.4 542.0 L956.8 542.4 L958.2 542.8 L959.7 543.2 L961.1 543.6 L962.5 544.0 L963.9 544.4"/>
<clipPath id="cl"><rect x="0" y="0" width="1003.8" height="700"/></clipPath>
<path stroke="#12b0ee" stroke-width="5.6" clip-path="url(#cl)" d="M117.6 611.4 L118.9 611.5 L120.3 611.5 L121.6 611.5 L122.9 611.4 L124.2 611.2 L125.4 610.9 L126.7 610.6 L127.9 610.3 L129.2 609.9 L130.4 609.5 L131.6 609.0 L132.8 608.4 L134.0 607.9 L135.1 607.2 L136.3 606.6 L137.4 605.9 L138.6 605.2 L139.7 604.5 L140.8 603.7 L141.9 602.9 L143.0 602.1 L144.1 601.3 L145.2 600.4 L146.2 599.6 L147.3 598.7 L148.3 597.8 L149.3 596.9 L150.4 596.0 L151.4 595.1 L152.4 594.1 L153.4 593.2 L154.3 592.2 L155.3 591.3 L156.3 590.3 L157.2 589.4 L158.2 588.4 L159.1 587.4 L160.0 586.4 L161.0 585.4 L161.9 584.4 L162.8 583.4 L163.7 582.4 L164.6 581.4 L165.4 580.4 L166.3 579.3 L167.2 578.3 L168.0 577.3 L168.9 576.2 L169.7 575.2 L170.6 574.1 L171.4 573.0 L172.2 572.0 L173.0 570.9 L173.9 569.8 L174.7 568.8 L175.5 567.7 L176.2 566.6 L177.0 565.5 L177.8 564.4 L178.6 563.3 L179.4 562.2 L180.1 561.1 L180.9 560.0 L181.6 558.9 L182.4 557.7 L183.1 556.6 L183.9 555.5 L184.6 554.4 L185.3 553.2 L186.0 552.1 L186.8 550.9 L187.5 549.8 L188.2 548.7 L188.9 547.5 L189.6 546.4 L190.3 545.2 L191.0 544.1 L191.7 542.9 L192.4 541.7 L193.1 540.6 L193.8 539.4 L194.5 538.2 L195.1 537.1 L195.8 535.9 L196.5 534.7 L197.2 533.6 L197.8 532.4 L198.5 531.2 L199.2 530.1 L199.8 528.9 L200.5 527.7 L201.2 526.5 L201.8 525.4 L202.5 524.2 L203.2 523.0 L203.8 521.8 L204.5 520.6 L205.1 519.5 L205.8 518.3 L206.4 517.1 L207.1 515.9 L207.7 514.7 L208.4 513.6 L209.0 512.4 L209.7 511.2 L210.3 510.0 L211.0 508.8 L211.6 507.6 L212.3 506.5 L212.9 505.3 L213.6 504.1 L214.2 502.9 L214.9 501.7 L215.5 500.5 L216.1 499.4 L216.8 498.2 L217.4 497.0 L218.1 495.8 L218.7 494.6 L219.3 493.4 L220.0 492.2 L220.6 491.1 L221.2 489.9 L221.9 488.7 L222.5 487.5 L223.1 486.3 L223.8 485.1 L224.4 483.9 L225.0 482.7 L225.7 481.5 L226.3 480.3 L226.9 479.2 L227.5 478.0 L228.2 476.8 L228.8 475.6 L229.4 474.4 L230.0 473.2 L230.7 472.0 L231.3 470.8 L231.9 469.6 L232.5 468.4 L233.2 467.2 L233.8 466.0 L234.4 464.8 L235.0 463.6 L235.6 462.5 L236.3 461.3 L236.9 460.1 L237.5 458.9 L238.1 457.7 L238.7 456.5 L239.3 455.3 L240.0 454.1 L240.6 452.9 L241.2 451.7 L241.8 450.5 L242.4 449.3 L243.0 448.1 L243.6 446.9 L244.2 445.7 L244.9 444.5 L245.5 443.3 L246.1 442.1 L246.7 440.9 L247.3 439.7 L247.9 438.5 L248.5 437.3 L249.1 436.1 L249.7 434.9 L250.3 433.7 L250.9 432.5 L251.5 431.3 L252.1 430.1 L252.7 428.9 L253.3 427.7 L254.0 426.5 L254.6 425.3 L255.2 424.1 L255.8 422.9 L256.4 421.7 L257.0 420.5 L257.6 419.2 L258.2 418.0 L258.8 416.8 L259.4 415.6 L260.0 414.4 L260.6 413.2 L261.2 412.0 L261.8 410.8 L262.4 409.6 L263.0 408.4 L263.6 407.2 L264.2 406.0 L264.8 404.8 L265.4 403.6 L266.0 402.4 L266.6 401.1 L267.2 399.9 L267.7 398.7 L268.3 397.5 L268.9 396.3 L269.5 395.1 L270.1 393.9 L270.7 392.7 L271.3 391.5 L271.9 390.3 L272.5 389.1 L273.1 387.8 L273.7 386.6 L274.3 385.4 L274.9 384.2 L275.5 383.0 L276.1 381.8 L276.7 380.6 L277.3 379.4 L277.9 378.2 L278.5 376.9 L279.1 375.7 L279.7 374.5 L280.2 373.3 L280.8 372.1 L281.4 370.9 L282.0 369.7 L282.6 368.5 L283.2 367.2 L283.8 366.0 L284.4 364.8 L285.0 363.6 L285.6 362.4 L286.2 361.2 L286.8 360.0 L287.4 358.7 L288.0 357.5 L288.6 356.3 L289.2 355.1 L289.8 353.9 L290.3 352.7 L290.9 351.4 L291.5 350.2 L292.1 349.0 L292.7 347.8 L293.3 346.6 L293.9 345.4 L294.5 344.1 L295.1 342.9 L295.7 341.7 L296.3 340.5 L296.9 339.3 L297.5 338.1 L298.1 336.8 L298.7 335.6 L299.3 334.4 L299.9 333.2 L300.5 332.0 L301.1 330.8 L301.7 329.5 L302.3 328.3 L302.9 327.1 L303.5 325.9 L304.1 324.7 L304.7 323.4 L305.3 322.2 L305.9 321.0 L306.5 319.8 L307.1 318.6 L307.7 317.3 L308.3 316.1 L308.9 314.9 L309.5 313.7 L310.1 312.5 L310.7 311.2 L311.3 310.0 L311.9 308.8 L312.5 307.6 L313.1 306.4 L313.7 305.2 L314.3 303.9 L314.9 302.7 L315.5 301.5 L316.1 300.3 L316.7 299.1 L317.4 297.9 L318.0 296.7 L318.6 295.5 L319.2 294.2 L319.8 293.0 L320.5 291.8 L321.1 290.6 L321.8 289.5 L322.4 288.3 L323.0 287.1 L323.7 285.9 L324.3 284.7 L325.0 283.5 L325.7 282.3 L326.3 281.2 L327.0 280.0 L327.7 278.8 L328.3 277.7 L329.0 276.5 L329.7 275.4 L330.4 274.2 L331.1 273.1 L331.8 271.9 L332.5 270.8 L333.2 269.7 L334.0 268.5 L334.7 267.4 L335.4 266.3 L336.2 265.2 L336.9 264.1 L337.7 263.0 L338.4 261.9 L339.2 260.8 L340.0 259.7 L340.8 258.7 L341.5 257.6 L342.3 256.6 L343.2 255.5 L344.0 254.5 L344.8 253.4 L345.6 252.4 L346.5 251.4 L347.3 250.4 L348.2 249.3 L349.0 248.3 L349.9 247.4 L350.8 246.4 L351.7 245.4 L352.6 244.4 L353.5 243.5 L354.4 242.5 L355.4 241.6 L356.3 240.6 L357.3 239.7 L358.2 238.8 L359.2 237.9 L360.2 237.0 L361.2 236.1 L362.2 235.2 L363.2 234.4 L364.3 233.5 L365.3 232.7 L366.4 231.8 L367.4 231.0 L368.5 230.2 L369.6 229.4 L370.7 228.6 L371.8 227.8 L372.9 227.0 L374.0 226.3 L375.2 225.5 L376.3 224.8 L377.5 224.1 L378.6 223.3 L379.8 222.6 L381.0 221.9 L382.2 221.3 L383.4 220.6 L384.6 219.9 L385.8 219.3 L387.0 218.6 L388.2 218.0 L389.4 217.4 L390.7 216.8 L391.9 216.2 L393.2 215.6 L394.4 215.0 L395.7 214.5 L396.9 213.9 L398.2 213.4 L399.5 212.9 L400.7 212.4 L402.0 211.9 L403.3 211.4 L404.6 210.9 L405.9 210.4 L407.2 210.0 L408.5 209.5 L409.8 209.1 L411.1 208.7 L412.4 208.3 L413.7 207.9 L415.0 207.5 L416.3 207.2 L417.6 206.8 L418.9 206.5 L420.2 206.2 L421.5 205.9 L422.8 205.6 L424.1 205.3 L425.5 205.0 L426.8 204.8 L428.1 204.5 L429.4 204.3 L430.7 204.1 L432.0 203.9 L433.3 203.7 L434.6 203.5 L434.6 203.5 L439.4 226.2 L446.2 204.2 L446.2 204.2 L446.5 203.3 L446.8 202.4 L447.1 201.4 L447.4 200.5 L447.6 199.6 L447.9 198.6 L448.2 197.7 L448.5 196.8 L448.7 195.9 L449.0 194.9 L449.3 194.0 L449.5 193.1 L449.8 192.1 L450.1 191.2 L450.3 190.3 L450.6 189.3 L450.8 188.4 L451.1 187.5 L451.3 186.5 L451.6 185.6 L451.8 184.6 L452.0 183.7 L452.3 182.8 L452.5 181.8 L452.8 180.9 L453.0 179.9 L453.2 179.0 L453.4 178.1 L453.7 177.1 L453.9 176.2 L454.1 175.2 L454.3 174.3 L454.5 173.3 L454.8 172.4 L455.0 171.4 L455.2 170.5 L455.4 169.6 L455.6 168.6 L455.8 167.7 L456.0 166.7 L456.2 165.8 L456.4 164.8 L456.6 163.9 L456.8 162.9 L457.0 162.0 L457.2 161.0 L457.4 160.0 L457.6 159.1 L457.8 158.1 L458.0 157.2 L458.2 156.2 L458.3 155.3 L458.5 154.3 L458.7 153.4 L458.9 152.4 L459.1 151.5 L459.3 150.5 L459.4 149.5 L459.6 148.6 L459.8 147.6 L460.0 146.7 L460.1 145.7 L460.3 144.8 L460.5 143.8 L460.6 142.8 L460.8 141.9 L461.0 140.9 L461.1 140.0 L461.3 139.0 L461.5 138.1 L461.6 137.1 L461.8 136.1 L462.0 135.2 L462.1 134.2 L462.3 133.3 L462.4 132.3 L462.6 131.3 L462.8 130.4 L462.9 129.4 L463.1 128.5 L463.2 127.5 L463.4 126.5 L463.5 125.6 L463.7 124.6 L463.9 123.7 L464.0 122.7 L464.2 121.7 L464.3 120.8 L464.5 119.8 L464.6 118.8 L464.8 117.9 L464.9 116.9 L465.1 116.0 L465.2 115.0 L465.4 114.0 L465.5 113.1 L465.7 112.1 L465.8 111.2 L466.0 110.2 L466.1 109.2 L466.3 108.3 L466.4 107.3 L466.6 106.4 L466.7 105.4 L466.8 104.4 L467.0 103.5 L467.1 102.5 L467.3 101.6 L467.4 100.6 L467.6 99.6 L467.7 98.7 L467.9 97.7 L468.0 96.8 L468.2 95.8 L468.3 94.9 L468.5 93.9 L468.6 92.9 L468.8 92.0 L468.9 91.0 L469.1 90.1 L469.2 89.1 L469.4 88.2 L469.5 87.2 L469.7 86.3 L469.8 85.3 L470.0 84.3 L470.2 83.4 L470.3 82.4 L470.5 81.5 L470.6 80.5 L470.8 79.6 L470.9 78.6 L471.1 77.7 L471.3 76.7 L471.4 75.8 L471.6 74.8 L471.7 73.9 L471.9 72.9 L472.1 72.0 L472.2 71.0 L472.4 70.1 L472.6 69.1 L472.7 68.2 L472.9 67.2 L473.1 66.3 L473.2 65.4 L473.4 64.4 L473.6 63.5 L473.8 62.5 L473.9 61.6 L474.1 60.6 L474.3 59.7 L474.5 58.7 L474.7 57.8 L474.9 56.9 L475.1 55.9 L475.3 55.0 L475.5 54.0 L475.8 53.0 L476.0 52.1 L476.2 51.1 L476.5 50.2 L476.8 49.2 L477.0 48.2 L477.3 47.3 L477.6 46.3 L477.9 45.3 L478.2 44.3 L478.5 43.4 L478.9 42.4 L479.2 41.4 L479.6 40.4 L480.0 39.4 L480.4 38.5 L480.9 37.6 L481.4 36.9 L482.0 36.2 L482.7 35.7 L483.4 35.4 L484.2 35.2 L485.1 35.1 L486.0 35.1 L486.8 35.2 L487.7 35.5 L488.6 35.8 L489.5 36.3 L490.3 36.8 L491.1 37.4 L491.8 38.0 L492.4 38.7 L493.0 39.5 L493.6 40.2 L494.1 41.0 L494.6 41.9 L495.1 42.7 L495.6 43.6 L496.1 44.4 L496.6 45.2 L497.0 46.1 L497.5 47.0 L498.0 47.8 L498.4 48.7 L498.9 49.5 L499.3 50.4 L499.8 51.3 L500.3 52.1 L500.7 53.0 L501.1 53.9 L501.6 54.7 L502.0 55.6 L502.5 56.5 L502.9 57.4 L503.3 58.2 L503.7 59.1 L504.2 60.0 L504.6 60.9 L505.0 61.8 L505.4 62.6 L505.8 63.5 L506.3 64.4 L506.7 65.3 L507.1 66.2 L507.5 67.1 L507.9 68.0 L508.3 68.8 L508.7 69.7 L509.2 70.6 L509.6 71.5 L510.0 72.4 L510.4 73.3 L510.8 74.2 L511.2 75.1 L511.6 76.0 L512.0 76.8 L512.4 77.7 L512.8 78.6 L513.3 79.5 L513.7 80.4 L514.1 81.3 L514.5 82.2 L514.9 83.0 L515.3 83.9 L515.8 84.8 L516.2 85.7 L516.6 86.6 L517.0 87.4 L517.5 88.3 L517.9 89.2 L518.3 90.1 L518.8 90.9 L519.2 91.8 L519.6 92.7 L520.1 93.5 L520.5 94.4 L521.0 95.2 L521.4 96.1 L521.9 97.0 L522.4 97.8 L522.8 98.7 L523.3 99.5 L523.8 100.4 L524.2 101.2 L524.7 102.0 L525.2 102.9 L525.7 103.7 L526.2 104.5 L526.7 105.4 L527.2 106.2 L527.7 107.0 L528.2 107.8 L528.7 108.7 L529.3 109.5 L529.8 110.3 L530.3 111.1 L530.9 111.9 L531.4 112.7 L532.0 113.5 L532.5 114.3 L533.1 115.1 L533.7 115.8 L534.2 116.6 L534.8 117.4 L535.4 118.2 L536.0 118.9 L536.5 119.7 L537.1 120.5 L537.7 121.2 L538.3 122.0 L539.0 122.7 L539.6 123.5 L540.2 124.2 L540.8 125.0 L541.4 125.7 L542.1 126.4 L542.7 127.2 L543.3 127.9 L544.0 128.6 L544.6 129.3 L545.3 130.0 L545.9 130.8 L546.6 131.5 L547.3 132.2 L547.9 132.9 L548.6 133.6 L549.3 134.2 L550.0 134.9 L550.6 135.6 L551.3 136.3 L552.0 137.0 L552.7 137.6 L553.4 138.3 L554.1 138.9 L554.9 139.6 L555.6 140.3 L556.3 140.9 L557.0 141.5 L557.7 142.2 L558.5 142.8 L559.2 143.4 L559.9 144.1 L560.7 144.7 L561.4 145.3 L562.2 145.9 L562.9 146.5 L563.7 147.1 L564.5 147.7 L565.2 148.3 L566.0 148.9 L566.8 149.5 L567.5 150.1 L568.3 150.7 L569.1 151.2 L569.9 151.8 L570.7 152.4 L571.5 152.9 L572.3 153.5 L573.1 154.0 L573.9 154.6 L574.7 155.1 L575.5 155.6 L576.3 156.1 L577.1 156.7 L577.9 157.2 L578.7 157.7 L579.6 158.2 L580.4 158.7 L581.2 159.2 L582.1 159.7 L582.9 160.2 L583.8 160.7 L584.6 161.1 L585.4 161.6 L586.3 162.1 L587.2 162.5 L588.0 163.0 L588.9 163.5 L589.7 163.9 L590.6 164.3 L591.5 164.8 L592.3 165.2 L593.2 165.6 L594.1 166.1 L595.0 166.5 L595.8 166.9 L596.7 167.3 L597.6 167.7 L598.5 168.1 L599.4 168.5 L600.3 168.8 L601.2 169.2 L602.1 169.6 L603.0 170.0 L603.9 170.3 L604.8 170.7 L605.7 171.0 L606.6 171.4 L607.6 171.7 L608.5 172.0 L609.4 172.4 L610.3 172.7 L611.2 173.0 L612.2 173.3 L613.1 173.6 L614.0 173.9 L615.0 174.2 L615.9 174.5 L616.8 174.8 L617.8 175.0 L618.7 175.3 L619.7 175.6 L620.6 175.8 L621.5 176.1 L622.5 176.3 L623.4 176.6 L624.4 176.8 L625.4 177.0 L626.3 177.3 L627.3 177.5 L628.2 177.7 L629.2 177.9 L630.2 178.1 L631.1 178.3 L632.1 178.5 L633.1 178.7 L634.0 178.9 L635.0 179.1 L635.9 179.3 L636.9 179.4 L637.9 179.6 L638.8 179.8 L639.8 180.0 L640.8 180.2 L641.7 180.4 L642.7 180.6 L643.7 180.7 L644.6 180.9 L645.6 181.1 L646.5 181.3 L647.5 181.5 L648.4 181.7 L649.4 181.9 L650.3 182.1 L651.3 182.3 L652.2 182.6 L653.1 182.8 L654.1 183.0 L655.0 183.2 L655.9 183.5 L656.8 183.7 L657.7 184.0 L658.7 184.3 L659.6 184.5 L660.5 184.8 L661.4 185.1 L662.3 185.4 L663.1 185.7 L664.0 186.1 L664.9 186.4 L665.8 186.7 L666.6 187.1 L667.5 187.5 L668.4 187.8 L669.2 188.2 L670.0 188.6 L670.9 189.1 L671.7 189.5 L672.5 189.9 L673.3 190.4 L674.1 190.9 L674.9 191.3 L675.7 191.8 L676.5 192.3 L677.3 192.9 L678.1 193.4 L678.8 193.9 L679.6 194.5 L680.3 195.0 L681.1 195.6 L681.8 196.2 L682.5 196.8 L683.3 197.4 L684.0 198.0 L684.7 198.6 L685.4 199.3 L686.1 199.9 L686.7 200.6 L687.4 201.3 L688.1 201.9 L688.7 202.6 L689.4 203.3 L690.0 204.0 L690.6 204.8 L691.3 205.5 L691.9 206.2 L692.5 207.0 L693.1 207.7 L693.7 208.5 L694.3 209.3 L694.9 210.0 L695.5 210.8 L696.1 211.6 L696.6 212.4 L697.2 213.2 L697.8 214.0 L698.3 214.8 L698.9 215.6 L699.5 216.4 L700.0 217.2 L700.6 218.0 L701.2 218.8 L701.7 219.6 L702.3 220.4 L702.8 221.2 L703.4 222.0 L703.9 222.9 L704.5 223.7 L705.1 224.5 L705.6 225.3 L706.2 226.1 L706.7 226.9 L707.3 227.7 L707.8 228.5 L708.4 229.3 L708.9 230.2 L709.5 231.0 L710.0 231.8 L710.6 232.6 L711.2 233.4 L711.7 234.2 L712.3 235.0 L712.8 235.8 L713.4 236.6 L713.9 237.4 L714.5 238.3 L715.0 239.1 L715.6 239.9 L716.1 240.7 L716.7 241.5 L717.3 242.3 L717.8 243.1 L718.4 243.9 L718.9 244.7 L719.5 245.5 L720.0 246.3 L720.6 247.1 L721.2 247.9 L721.7 248.7 L722.3 249.5 L722.8 250.3 L723.4 251.1 L724.0 251.9 L724.5 252.7 L725.1 253.5 L725.7 254.3 L726.2 255.1 L726.8 255.9 L727.4 256.7 L727.9 257.5 L728.5 258.3 L729.1 259.1 L729.6 259.9 L730.2 260.7 L730.8 261.5 L731.4 262.2 L731.9 263.0 L732.5 263.8 L733.1 264.6 L733.7 265.4 L734.3 266.2 L734.8 266.9 L735.4 267.7 L736.0 268.5 L736.6 269.3 L737.2 270.0 L737.8 270.8 L738.4 271.6 L739.0 272.4 L739.6 273.1 L740.2 273.9 L740.8 274.7 L741.4 275.4 L742.0 276.2 L742.6 277.0 L743.2 277.7 L743.8 278.5 L744.4 279.2 L745.0 280.0 L745.6 280.7 L746.2 281.5 L746.8 282.2 L747.4 283.0 L748.1 283.7 L748.7 284.5 L749.3 285.2 L749.9 286.0 L750.6 286.7 L751.2 287.4 L751.8 288.2 L752.4 288.9 L753.1 289.7 L753.7 290.4 L754.3 291.1 L755.0 291.9 L755.6 292.6 L756.2 293.3 L756.9 294.0 L757.5 294.8 L758.2 295.5 L758.8 296.2 L759.5 296.9 L760.1 297.7 L760.8 298.4 L761.4 299.1 L762.1 299.8 L762.7 300.5 L763.4 301.2 L764.0 301.9 L764.7 302.6 L765.3 303.4 L766.0 304.1 L766.7 304.8 L767.3 305.5 L768.0 306.2 L768.7 306.9 L769.3 307.6 L770.0 308.3 L770.7 309.0 L771.3 309.7 L772.0 310.3 L772.7 311.0 L773.4 311.7 L774.0 312.4 L774.7 313.1 L775.4 313.8 L776.1 314.5 L776.8 315.2 L777.4 315.8 L778.1 316.5 L778.8 317.2 L779.5 317.9 L780.2 318.5 L780.9 319.2 L781.6 319.9 L782.3 320.6 L783.0 321.2 L783.7 321.9 L784.4 322.6 L785.1 323.2 L785.8 323.9 L786.5 324.6 L787.2 325.2 L787.9 325.9 L788.6 326.5 L789.3 327.2 L790.0 327.9 L790.7 328.5 L791.4 329.2 L792.1 329.8 L792.9 330.5 L793.6 331.1 L794.3 331.8 L795.0 332.4 L795.7 333.1 L796.5 333.7 L797.2 334.3 L797.9 335.0 L798.6 335.6 L799.4 336.3 L800.1 336.9 L800.8 337.5 L801.5 338.2 L802.3 338.8 L803.0 339.4 L803.7 340.0 L804.5 340.7 L805.2 341.3 L805.9 341.9 L806.7 342.5 L807.4 343.2 L808.2 343.8 L808.9 344.4 L809.7 345.0 L810.4 345.6 L811.1 346.3 L811.9 346.9 L812.6 347.5 L813.4 348.1 L814.1 348.7 L814.9 349.3 L815.6 349.9 L816.4 350.5 L817.2 351.1 L817.9 351.7 L818.7 352.3 L819.4 352.9 L820.2 353.5 L820.9 354.1 L821.7 354.7 L822.5 355.3 L823.2 355.9 L824.0 356.5 L824.8 357.1 L825.5 357.7 L826.3 358.3 L827.1 358.9 L827.8 359.4 L828.6 360.0 L829.4 360.6 L830.2 361.2 L830.9 361.8 L831.7 362.4 L832.5 362.9 L833.3 363.5 L834.1 364.1 L834.8 364.7 L835.6 365.2 L836.4 365.8 L837.2 366.4 L838.0 366.9 L838.8 367.5 L839.5 368.1 L840.3 368.6 L841.1 369.2 L841.9 369.8 L842.7 370.3 L843.5 370.9 L844.3 371.4 L845.1 372.0 L845.9 372.5 L846.7 373.1 L847.5 373.7 L848.3 374.2 L849.1 374.8 L849.9 375.3 L850.7 375.8 L851.5 376.4 L852.3 376.9 L853.1 377.5 L853.9 378.0 L854.7 378.6 L855.5 379.1 L856.3 379.6 L857.1 380.2 L857.9 380.7 L858.7 381.2 L859.5 381.8 L860.3 382.3 L861.2 382.8 L862.0 383.4 L862.8 383.9 L863.6 384.4 L864.4 384.9 L865.2 385.5 L866.1 386.0 L866.9 386.5 L867.7 387.0 L868.5 387.6 L869.3 388.1 L870.2 388.6 L871.0 389.1 L871.8 389.6 L872.6 390.1 L873.5 390.6 L874.3 391.1 L875.1 391.7 L876.0 392.2 L876.8 392.7 L877.6 393.2 L878.4 393.7 L879.3 394.2 L880.1 394.7 L880.9 395.2 L881.8 395.7 L882.6 396.2 L883.5 396.7 L884.3 397.2 L885.1 397.7 L886.0 398.2 L886.8 398.6 L887.6 399.1 L888.5 399.6 L889.3 400.1 L890.2 400.6 L891.0 401.1 L891.9 401.6 L892.7 402.0 L893.5 402.5 L894.4 403.0 L895.2 403.5 L896.1 404.0 L896.9 404.4 L897.8 404.9 L898.6 405.4 L899.5 405.9 L900.3 406.3 L901.2 406.8 L902.0 407.3 L902.9 407.7 L903.8 408.2 L904.6 408.7 L905.5 409.1 L906.3 409.6 L907.2 410.1 L908.0 410.5 L908.9 411.0 L909.7 411.4 L910.6 411.9 L911.5 412.4 L912.3 412.8 L913.2 413.3 L914.1 413.7 L914.9 414.2 L915.8 414.6 L916.6 415.1 L917.5 415.5 L918.4 416.0 L919.2 416.4 L920.1 416.8 L921.0 417.3 L921.8 417.7 L922.7 418.2 L923.6 418.6 L924.4 419.0 L925.3 419.5 L926.2 419.9 L927.1 420.3 L927.9 420.8 L928.8 421.2 L929.7 421.6 L930.5 422.1 L931.4 422.5 L932.3 422.9 L933.2 423.4 L934.0 423.8 L934.9 424.2 L935.8 424.6 L936.7 425.1 L937.6 425.5 L938.4 425.9 L939.3 426.3 L940.2 426.7 L941.1 427.1 L942.0 427.6 L942.8 428.0 L943.7 428.4 L944.6 428.8 L945.5 429.2 L946.4 429.6 L947.2 430.0 L948.1 430.4 L949.0 430.8 L949.9 431.2 L950.8 431.6 L951.7 432.0 L952.6 432.4 L953.4 432.8 L954.3 433.2 L955.2 433.6 L956.1 434.0 L957.0 434.4 L957.9 434.8 L958.8 435.2 L959.7 435.6 L960.6 436.0 L961.4 436.4 L962.3 436.8 L963.2 437.2 L964.1 437.5 L965.0 437.9 L965.9 438.3 L966.8 438.7 L967.7 439.1 L968.6 439.5 L969.5 439.8 L970.4 440.2 L971.3 440.6 L972.2 441.0 L973.0 441.4 L973.9 441.7 L974.8 442.1 L975.7 442.5 L976.6 442.8 L977.5 443.2 L978.4 443.6 L979.3 443.9 L980.2 444.3 L981.1 444.7 L982.0 445.0 L982.9 445.4 L983.8 445.8 L984.7 446.1 L985.6 446.5 L986.5 446.8 L987.4 447.2 L988.3 447.6 L989.2 447.9 L990.1 448.3 L991.0 448.6 L991.9 449.0 L992.8 449.3 L993.7 449.7 L994.6 450.0 L995.5 450.4 L996.4 450.7 L997.3 451.1 L998.2 451.4 L999.1 451.8 L1000.0 452.1 L1001.0 452.4 L1001.9 452.8 L1002.8 453.1 L1003.7 453.5 L1004.6 453.8 L1005.5 454.1 L1006.4 454.5 L1007.3 454.8 L1008.2 455.1 L1009.1 455.5 L1010.0 455.8"/>
<path stroke="#000" stroke-width="4.8" d="M267.0 595.5 L267.0 595.2 L267.1 594.9 L267.1 594.6 L267.2 594.3 L267.2 594.0 L267.2 593.7 L267.3 593.4 L267.3 593.1 L267.3 592.8 L267.4 592.5 L267.4 592.2 L267.5 591.9 L267.5 591.6 L267.5 591.3 L267.6 591.0 L267.6 590.7 L267.7 590.4 L267.7 590.1 L267.7 589.7 L267.8 589.4 L267.8 589.1 L267.8 588.8 L267.9 588.5 L267.9 588.2 L268.0 587.9 L268.0 587.6 L268.0 587.3 L268.1 587.0 L268.1 586.7 L268.2 586.4 L268.2 586.1 L268.2 585.8 L268.3 585.5 L268.3 585.2M270.4 568.6 L270.5 568.3 L270.5 568.0 L270.5 567.7 L270.6 567.4 L270.6 567.1 L270.6 566.8 L270.7 566.5 L270.7 566.2 L270.8 565.9 L270.8 565.6 L270.8 565.3 L270.9 565.0 L270.9 564.7 L271.0 564.4 L271.0 564.1 L271.0 563.8 L271.1 563.5 L271.1 563.2 L271.1 562.9 L271.2 562.6 L271.2 562.3 L271.3 561.9 L271.3 561.6 L271.3 561.3 L271.4 561.0 L271.4 560.7 L271.4 560.4 L271.5 560.1 L271.5 559.8 L271.6 559.5 L271.6 559.2 L271.6 558.9 L271.7 558.6 L271.7 558.3 L271.7 558.0 L271.8 557.7 L271.8 557.4 L271.9 557.1M274.0 540.2 L274.0 539.9 L274.1 539.6 L274.1 539.3 L274.1 539.0 L274.2 538.7 L274.2 538.4 L274.2 538.1 L274.3 537.8 L274.3 537.5 L274.4 537.2 L274.4 536.9 L274.4 536.6 L274.5 536.3 L274.5 536.0 L274.5 535.7 L274.6 535.4 L274.6 535.1 L274.7 534.8 L274.7 534.5 L274.7 534.2 L274.8 533.9 L274.8 533.6 L274.8 533.3 L274.9 533.0 L274.9 532.7 L275.0 532.4 L275.0 532.1 L275.0 531.8 L275.1 531.5 L275.1 531.2 L275.1 530.9 L275.2 530.6 L275.2 530.3 L275.3 530.0 L275.3 529.7 L275.3 529.4 L275.4 529.1 L275.4 528.8M277.5 511.6 L277.6 511.3 L277.6 511.0 L277.6 510.7 L277.7 510.4 L277.7 510.1 L277.8 509.8 L277.8 509.5 L277.8 509.2 L277.9 508.9 L277.9 508.6 L277.9 508.3 L278.0 508.0 L278.0 507.7 L278.1 507.4 L278.1 507.1 L278.1 506.8 L278.2 506.5 L278.2 506.2 L278.2 505.9 L278.3 505.6 L278.3 505.3 L278.4 505.0 L278.4 504.7 L278.4 504.4 L278.5 504.1 L278.5 503.8 L278.5 503.5 L278.6 503.2 L278.6 502.9 L278.6 502.6 L278.7 502.3 L278.7 502.0 L278.8 501.7 L278.8 501.4 L278.8 501.1 L278.9 500.8 L278.9 500.5 L278.9 500.2 L279.0 499.9M280.9 484.0 L281.0 483.7 L281.0 483.4 L281.0 483.1 L281.1 482.8 L281.1 482.5 L281.1 482.2 L281.2 481.9 L281.2 481.6 L281.3 481.3 L281.3 481.0 L281.3 480.7 L281.4 480.4 L281.4 480.1 L281.4 479.8 L281.5 479.5 L281.5 479.2 L281.5 478.9 L281.6 478.6 L281.6 478.3 L281.7 478.0 L281.7 477.7 L281.7 477.4 L281.8 477.1 L281.8 476.8 L281.8 476.5 L281.9 476.2 L281.9 475.9 L281.9 475.6 L282.0 475.3 L282.0 475.0 L282.0 474.7 L282.1 474.4 L282.1 474.1 L282.2 473.8 L282.2 473.5 L282.2 473.2 L282.3 472.9 L282.3 472.6M284.4 455.1 L284.4 454.8 L284.5 454.5 L284.5 454.2 L284.5 453.9 L284.6 453.6 L284.6 453.3 L284.6 453.0 L284.7 452.7 L284.7 452.4 L284.7 452.1 L284.8 451.8 L284.8 451.5 L284.9 451.2 L284.9 450.9 L284.9 450.6 L285.0 450.3 L285.0 450.0 L285.0 449.7 L285.1 449.4 L285.1 449.1 L285.1 448.8 L285.2 448.5 L285.2 448.2 L285.2 447.9 L285.3 447.6 L285.3 447.3 L285.4 447.0 L285.4 446.7 L285.4 446.4 L285.5 446.1 L285.5 445.8 L285.5 445.5 L285.6 445.2 L285.6 444.9 L285.6 444.6 L285.7 444.3 L285.7 444.0 L285.7 443.7M287.7 426.6 L287.8 426.3 L287.8 426.0 L287.8 425.7 L287.9 425.4 L287.9 425.1 L288.0 424.8 L288.0 424.5 L288.0 424.2 L288.1 423.9 L288.1 423.6 L288.1 423.3 L288.2 423.0 L288.2 422.7 L288.2 422.4 L288.3 422.0 L288.3 421.7 L288.3 421.4 L288.4 421.1 L288.4 420.8 L288.4 420.5 L288.5 420.2 L288.5 419.9 L288.5 419.6 L288.6 419.3 L288.6 419.0 L288.6 418.7 L288.7 418.4 L288.7 418.1 L288.8 417.8 L288.8 417.5 L288.8 417.2 L288.9 416.9 L288.9 416.6 L288.9 416.3 L289.0 416.0 L289.0 415.7 L289.0 415.4 L289.1 415.1M291.0 398.0 L291.1 397.7 L291.1 397.4 L291.1 397.1 L291.2 396.8 L291.2 396.5 L291.2 396.2 L291.3 395.9 L291.3 395.6 L291.3 395.3 L291.4 395.0 L291.4 394.7 L291.4 394.4 L291.5 394.1 L291.5 393.8 L291.5 393.5 L291.6 393.2 L291.6 392.9 L291.6 392.5 L291.7 392.2 L291.7 391.9 L291.7 391.6 L291.8 391.3 L291.8 391.0 L291.8 390.7 L291.9 390.4 L291.9 390.1 L291.9 389.8 L292.0 389.5 L292.0 389.2 L292.0 388.9 L292.1 388.6 L292.1 388.3 L292.1 388.0 L292.2 387.7 L292.2 387.4 L292.2 387.1 L292.3 386.8 L292.3 386.5M294.3 368.7 L294.3 368.4 L294.3 368.1 L294.4 367.8 L294.4 367.5 L294.4 367.2 L294.5 366.9 L294.5 366.6 L294.5 366.3 L294.6 366.0 L294.6 365.7 L294.6 365.4 L294.7 365.1 L294.7 364.8 L294.7 364.5 L294.8 364.2 L294.8 363.9 L294.8 363.6 L294.9 363.3 L294.9 363.0 L294.9 362.7 L295.0 362.4 L295.0 362.1 L295.0 361.8 L295.1 361.5 L295.1 361.2 L295.1 360.9 L295.2 360.6 L295.2 360.3 L295.2 360.0 L295.2 359.7 L295.3 359.4 L295.3 359.1 L295.3 358.8 L295.4 358.5 L295.4 358.2 L295.4 357.9 L295.5 357.6 L295.5 357.3M297.4 339.7 L297.4 339.4 L297.4 339.1 L297.5 338.8 L297.5 338.5 L297.5 338.2 L297.6 337.9 L297.6 337.6 L297.6 337.3 L297.7 337.0 L297.7 336.7 L297.7 336.4 L297.8 336.1 L297.8 335.8 L297.8 335.5 L297.9 335.2 L297.9 334.9 L297.9 334.6 L298.0 334.3 L298.0 334.0 L298.0 333.7 L298.0 333.4 L298.1 333.1 L298.1 332.7 L298.1 332.4 L298.2 332.1 L298.2 331.8 L298.2 331.5 L298.3 331.2 L298.3 330.9 L298.3 330.6 L298.4 330.3 L298.4 330.0 L298.4 329.7 L298.5 329.4 L298.5 329.1 L298.5 328.8 L298.5 328.5 L298.6 328.2M300.3 311.2 L300.4 310.9 L300.4 310.6 L300.4 310.3 L300.4 310.0 L300.5 309.7 L300.5 309.4 L300.5 309.1 L300.6 308.8 L300.6 308.5 L300.6 308.2 L300.7 307.9 L300.7 307.6 L300.7 307.3 L300.7 307.0 L300.8 306.7 L300.8 306.3 L300.8 306.0 L300.9 305.7 L300.9 305.4 L300.9 305.1 L301.0 304.8 L301.0 304.5 L301.0 304.2 L301.1 303.9 L301.1 303.6 L301.1 303.3 L301.1 303.0 L301.2 302.7 L301.2 302.4 L301.2 302.1 L301.3 301.8 L301.3 301.5 L301.3 301.2 L301.4 300.9 L301.4 300.6 L301.4 300.3 L301.4 300.0 L301.5 299.7M303.2 282.3 L303.2 282.0 L303.2 281.7 L303.3 281.4 L303.3 281.1 L303.3 280.8 L303.4 280.5 L303.4 280.2 L303.4 279.9 L303.4 279.5 L303.5 279.2 L303.5 278.9 L303.5 278.6 L303.6 278.3 L303.6 278.0 L303.6 277.7 L303.6 277.4 L303.7 277.1 L303.7 276.8 L303.7 276.5 L303.8 276.2 L303.8 275.9 L303.8 275.6 L303.9 275.3 L303.9 275.0 L303.9 274.7 L303.9 274.4 L304.0 274.1 L304.0 273.7 L304.0 273.4 L304.1 273.1 L304.1 272.8 L304.1 272.5 L304.1 272.2 L304.2 271.9 L304.2 271.6 L304.2 271.3 L304.3 271.0 L304.3 270.7M306.0 254.2 L306.0 253.9 L306.0 253.6 L306.1 253.3 L306.1 253.0 L306.1 252.7 L306.2 252.4 L306.2 252.1 L306.3 251.8 L306.3 251.5 L306.3 251.2 L306.4 250.9 L306.4 250.6 L306.4 250.3 L306.5 250.0 L306.5 249.7 L306.5 249.4 L306.6 249.1 L306.6 248.8 L306.7 248.5 L306.7 248.2 L306.7 247.8 L306.8 247.5 L306.8 247.2 L306.9 246.9 L306.9 246.6 L306.9 246.3 L307.0 246.0 L307.0 245.7 L307.0 245.4 L307.1 245.1 L307.1 244.8 L307.2 244.5 L307.2 244.2 L307.3 243.9 L307.3 243.6 L307.3 243.3 L307.4 243.0 L307.4 242.7M310.5 224.8 L310.6 224.5 L310.6 224.3 L310.7 224.0 L310.8 223.7 L310.8 223.4 L310.9 223.1 L311.0 222.8 L311.0 222.5 L311.1 222.2 L311.2 221.9 L311.2 221.6 L311.3 221.3 L311.4 221.0 L311.4 220.7 L311.5 220.5 L311.6 220.2 L311.6 219.9 L311.7 219.6 L311.8 219.3 L311.9 219.0 L311.9 218.7 L312.0 218.4 L312.1 218.1 L312.1 217.8 L312.2 217.5 L312.3 217.3 L312.4 217.0 L312.4 216.7 L312.5 216.4 L312.6 216.1 L312.7 215.8 L312.7 215.5 L312.8 215.2 L312.9 214.9 L313.0 214.7 L313.1 214.4 L313.1 214.1 L313.2 213.8 L313.3 213.5M318.8 197.5 L318.9 197.2 L319.0 196.9 L319.1 196.7 L319.3 196.4 L319.4 196.1 L319.5 195.8 L319.6 195.6 L319.7 195.3 L319.9 195.0 L320.0 194.7 L320.1 194.5 L320.2 194.2 L320.3 193.9 L320.5 193.7 L320.6 193.4 L320.7 193.1 L320.8 192.8 L321.0 192.6 L321.1 192.3 L321.2 192.0 L321.3 191.8 L321.5 191.5 L321.6 191.2 L321.7 191.0 L321.9 190.7 L322.0 190.4 L322.1 190.2 L322.3 189.9 L322.4 189.6 L322.5 189.4 L322.7 189.1 L322.8 188.8 L322.9 188.6 L323.1 188.3 L323.2 188.0 L323.4 187.8 L323.5 187.5 L323.6 187.2M332.7 173.4 L332.9 173.2 L333.1 173.0 L333.3 172.8 L333.5 172.6 L333.8 172.4 L334.0 172.1 L334.2 171.9 L334.4 171.7 L334.6 171.5 L334.8 171.3 L335.1 171.2 L335.3 171.0 L335.5 170.8 L335.7 170.6 L336.0 170.4 L336.2 170.2 L336.5 170.1 L336.7 169.9 L336.9 169.7 L337.2 169.6 L337.4 169.4 L337.7 169.2 L337.9 169.1 L338.2 168.9 L338.5 168.8 L338.7 168.7 L339.0 168.5 L339.2 168.4 L339.5 168.2 L339.8 168.1 L340.1 168.0 L340.3 167.9 L340.6 167.8 L340.9 167.7 L341.2 167.6 L341.5 167.5 L341.8 167.4 L342.1 167.3 L342.4 167.2 L342.7 167.1 L343.0 167.0"/>
<path stroke="#000" stroke-width="4.6" d="M358.0 165.7H369.0M385.6 165.7H396.6M413.2 165.7H424.2M440.8 165.7H451.8M468.4 165.7H479.4M496.0 165.7H507.0M522.9 165.7H533.9M550.7 165.7H561.7M578.0 165.7H594.9M613.2 165.7H623.2M639.5 165.7H650.5M667.0 165.7H678.0M694.3 165.7H705.3M721.7 165.7H732.7M749.1 165.7H760.1M776.5 165.7H787.5M803.9 165.7H814.9M831.3 165.7H842.3M859.4 165.7H870.4M886.3 165.7H897.3M906.6 165.7H917.6M934.3 165.7H945.3M961.8 165.7H972.8M989.3 165.7H1000.4"/>
</g>
<rect x="720.6" y="0" width="300" height="151" fill="#fff"/>
<g fill="none" stroke-linecap="round">
<path stroke="#ff0d0d" stroke-width="3.6" d="M745.4 13.2H790.6"/>
<path stroke="#dba31c" stroke-width="5.0" d="M745.4 43.4H790.6"/>
<path stroke="#0a2d91" stroke-width="5.0" d="M745.4 73.6H790.6"/>
<path stroke="#12b0ee" stroke-width="5.2" d="M745.4 103.5H790.6"/>
<path stroke="#000" stroke-width="5" d="M745.4 133.7H757.5M774.2 133.7H786.7"/>
</g>
<g font-family="'Liberation Sans', Arial, sans-serif" font-size="18.7" fill="#000" stroke="#000" stroke-width="0.3">
<text x="796.95" y="18.90" textLength="63.25" lengthAdjust="spacingAndGlyphs">pAAc-2</text>
<text x="866.50" y="18.90" textLength="5.20" lengthAdjust="spacingAndGlyphs">|</text>
<text x="879.38" y="18.90" textLength="11.36" lengthAdjust="spacingAndGlyphs">5</text>
<text x="895.26" y="18.90" textLength="24.09" lengthAdjust="spacingAndGlyphs">ml</text>
<text x="923.32" y="18.90" textLength="7.28" lengthAdjust="spacingAndGlyphs">-</text>
<text x="934.92" y="18.90" textLength="38.38" lengthAdjust="spacingAndGlyphs">MW</text>
<text x="796.95" y="49.05" textLength="63.10" lengthAdjust="spacingAndGlyphs">pAAc-3</text>
<text x="866.50" y="49.05" textLength="5.20" lengthAdjust="spacingAndGlyphs">|</text>
<text x="879.18" y="49.05" textLength="22.74" lengthAdjust="spacingAndGlyphs">20</text>
<text x="906.67" y="49.05" textLength="23.86" lengthAdjust="spacingAndGlyphs">ml</text>
<text x="934.36" y="49.05" textLength="7.69" lengthAdjust="spacingAndGlyphs">-</text>
<text x="946.12" y="49.05" textLength="38.38" lengthAdjust="spacingAndGlyphs">MW</text>
<text x="796.96" y="79.20" textLength="62.81" lengthAdjust="spacingAndGlyphs">pAAc-4</text>
<text x="866.50" y="79.20" textLength="5.20" lengthAdjust="spacingAndGlyphs">|</text>
<text x="878.65" y="79.20" textLength="34.55" lengthAdjust="spacingAndGlyphs">100</text>
<text x="917.37" y="79.20" textLength="23.86" lengthAdjust="spacingAndGlyphs">ml</text>
<text x="945.40" y="79.20" textLength="7.42" lengthAdjust="spacingAndGlyphs">-</text>
<text x="958.29" y="79.20" textLength="34.30" lengthAdjust="spacingAndGlyphs">RBF</text>
<text x="796.95" y="109.35" textLength="63.05" lengthAdjust="spacingAndGlyphs">pAAc-5</text>
<text x="866.50" y="109.35" textLength="5.20" lengthAdjust="spacingAndGlyphs">|</text>
<text x="879.39" y="109.35" textLength="33.79" lengthAdjust="spacingAndGlyphs">500</text>
<text x="917.37" y="109.35" textLength="23.86" lengthAdjust="spacingAndGlyphs">ml</text>
<text x="945.40" y="109.35" textLength="7.42" lengthAdjust="spacingAndGlyphs">-</text>
<text x="958.29" y="109.35" textLength="34.30" lengthAdjust="spacingAndGlyphs">RBF</text>
<text x="796.95" y="139.50" textLength="63.10" lengthAdjust="spacingAndGlyphs">pAAc-6</text>
<text x="866.50" y="139.50" textLength="5.20" lengthAdjust="spacingAndGlyphs">|</text>
<text x="879.39" y="139.50" textLength="33.79" lengthAdjust="spacingAndGlyphs">500</text>
<text x="917.37" y="139.50" textLength="23.86" lengthAdjust="spacingAndGlyphs">ml</text>
<text x="945.40" y="139.50" textLength="7.42" lengthAdjust="spacingAndGlyphs">-</text>
<text x="957.88" y="139.50" textLength="38.29" lengthAdjust="spacingAndGlyphs">flow</text>
</g>
<g font-family="'Liberation Sans', Arial, sans-serif" font-size="22.3" fill="#000" stroke="#000" stroke-width="0.25">
<text x="47.10" y="621.70" textLength="26.76" lengthAdjust="spacingAndGlyphs">20</text>
<text x="47.41" y="547.16" textLength="26.44" lengthAdjust="spacingAndGlyphs">30</text>
<text x="47.77" y="472.62" textLength="26.06" lengthAdjust="spacingAndGlyphs">40</text>
<text x="47.35" y="398.09" textLength="26.50" lengthAdjust="spacingAndGlyphs">50</text>
<text x="47.10" y="323.55" textLength="26.76" lengthAdjust="spacingAndGlyphs">60</text>
<text x="47.03" y="249.01" textLength="26.83" lengthAdjust="spacingAndGlyphs">70</text>
<text x="47.28" y="174.48" textLength="26.57" lengthAdjust="spacingAndGlyphs">80</text>
<text x="47.16" y="99.94" textLength="26.70" lengthAdjust="spacingAndGlyphs">90</text>
<text x="33.38" y="25.40" textLength="40.45" lengthAdjust="spacingAndGlyphs">100</text>
<text x="78.99" y="655.00" textLength="35.64" lengthAdjust="spacingAndGlyphs">-60</text>
<text x="192.29" y="655.00" textLength="35.64" lengthAdjust="spacingAndGlyphs">-40</text>
<text x="305.39" y="655.00" textLength="35.64" lengthAdjust="spacingAndGlyphs">-20</text>
<text x="429.82" y="655.00" textLength="13.63" lengthAdjust="spacingAndGlyphs">0</text>
<text x="536.53" y="655.00" textLength="26.11" lengthAdjust="spacingAndGlyphs">20</text>
<text x="649.05" y="655.00" textLength="27.33" lengthAdjust="spacingAndGlyphs">40</text>
<text x="761.72" y="655.00" textLength="28.39" lengthAdjust="spacingAndGlyphs">60</text>
<text x="874.85" y="655.00" textLength="27.54" lengthAdjust="spacingAndGlyphs">80</text>
<text x="981.42" y="655.00" textLength="39.59" lengthAdjust="spacingAndGlyphs">100</text>
</g>
<g font-family="'Liberation Sans', Arial, sans-serif" font-size="26" font-weight="bold" fill="#000">
<text x="509.58" y="688.30" textLength="78.43" lengthAdjust="spacingAndGlyphs">t [min]</text>
<text transform="translate(25.9 356.03) rotate(-90)" textLength="61.48" lengthAdjust="spacingAndGlyphs">T [°C]</text>
</g>
</svg>
</body></html>
